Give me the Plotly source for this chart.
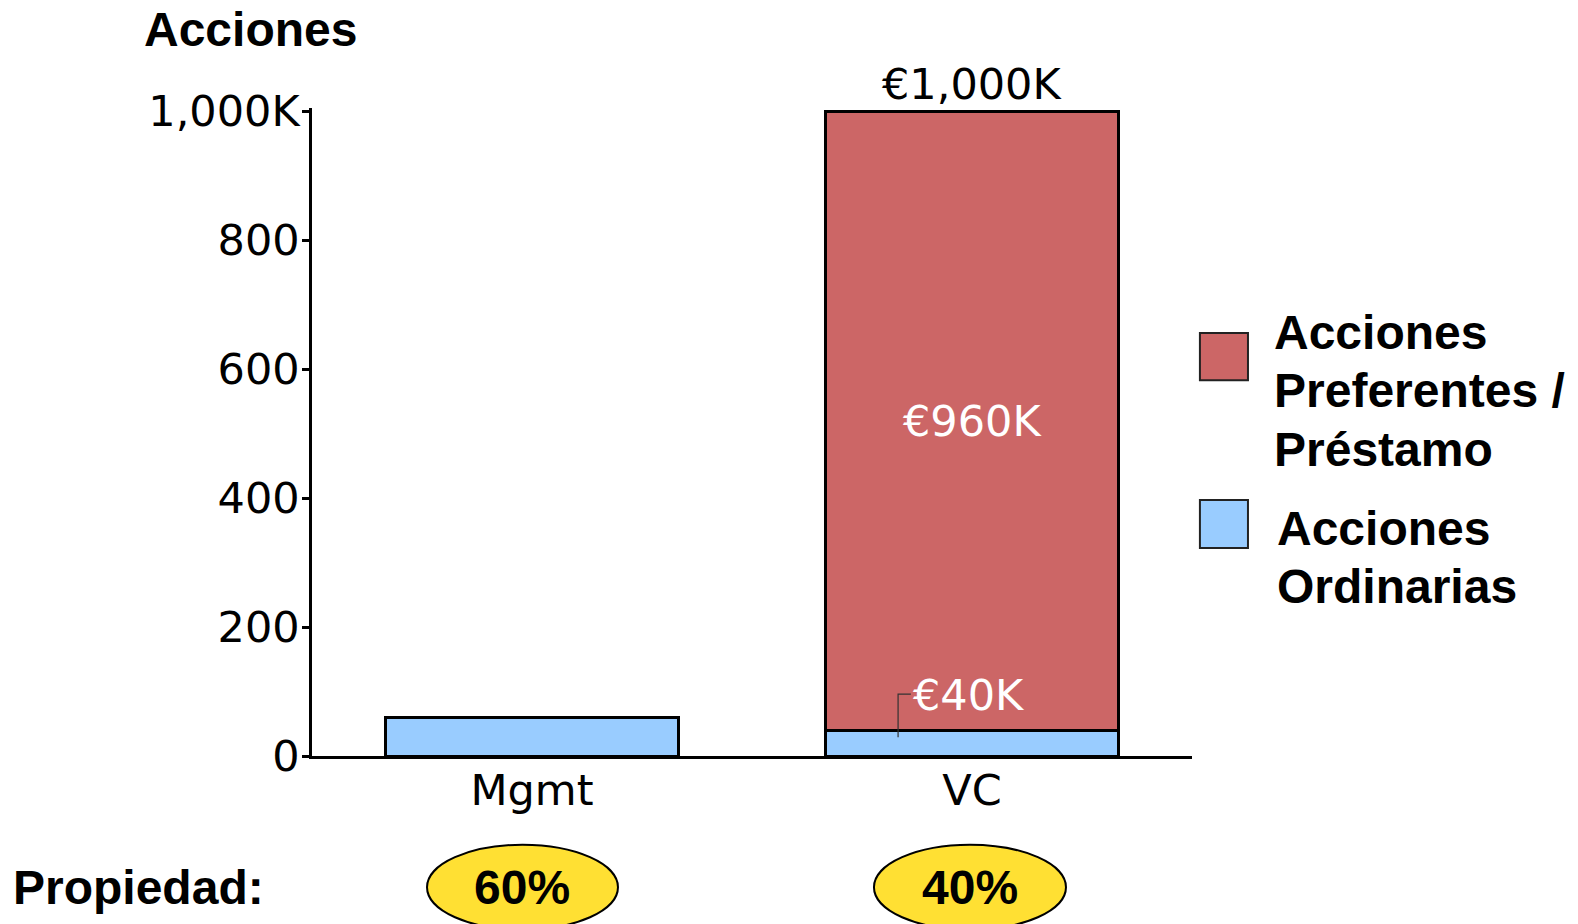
import plotly.graph_objects as go

categories = ["Mgmt", "VC"]
ordinarias = [60, 40]
preferentes = [0, 960]
ownership = ["60%", "40%"]
tick_vals = [0, 200, 400, 600, 800, 1000]
tick_text = ["0", "200", "400", "600", "800", "1,000K"]
legend_red = ["Acciones", "Preferentes /", "Préstamo"]
legend_blue = ["Acciones", "Ordinarias"]

RED = "#CC6666"
BLUE = "#99CCFF"
TICKFONT = dict(family="DejaVu Sans", size=43, color="black")
BOLD = dict(family="Liberation Sans", size=48, color="black")

# plot area geometry (px): height 648 -> paper units
PH = 648.0

fig = go.Figure()
fig.add_trace(go.Bar(x=categories, y=ordinarias, name="Acciones Ordinarias",
                     marker=dict(color=BLUE, line=dict(color="black", width=3)),
                     width=0.666))
fig.add_trace(go.Bar(x=categories, y=preferentes, name="Acciones Preferentes / Préstamo",
                     marker=dict(color=RED, line=dict(color="black", width=3)),
                     width=0.666))

vc_total = ordinarias[1] + preferentes[1]

annotations = [
    dict(x=1, y=vc_total, xref="x", yref="y", text="€1,000K", showarrow=False,
         xanchor="center", yanchor="bottom", yshift=0, font=TICKFONT),
    dict(x=1, y=ordinarias[1] + preferentes[1] / 2, xref="x", yref="y", text="€960K",
         showarrow=False, xanchor="center",
         font=dict(family="DejaVu Sans", size=43, color="white")),
    dict(x=0.861, y=95, xref="x", yref="y", text="€40K", showarrow=False,
         xanchor="left", font=dict(family="DejaVu Sans", size=43, color="white")),
    dict(x=-0.192, y=1.1215, xref="paper", yref="paper", text="<b>Acciones</b>",
         showarrow=False, xanchor="left", yanchor="middle", font=BOLD,
         height=44, valign="middle", borderpad=0),
    dict(x=-0.342, y=-0.2037, xref="paper", yref="paper", text="<b>Propiedad:</b>",
         showarrow=False, xanchor="left", yanchor="middle", font=BOLD),
]

# legend text lines
red_centers = [332, 390, 449]
for txt, py in zip(legend_red, red_centers):
    annotations.append(dict(x=1.0909, y=(756 - py) / PH, xref="paper", yref="paper",
                            text="<b>" + txt + "</b>", showarrow=False,
                            xanchor="left", yanchor="middle", font=BOLD))
blue_centers = [528, 586]
for txt, py in zip(legend_blue, blue_centers):
    annotations.append(dict(x=1.0943, y=(756 - py) / PH, xref="paper", yref="paper",
                            text="<b>" + txt + "</b>", showarrow=False,
                            xanchor="left", yanchor="middle", font=BOLD))

shapes = [
    # leader line for €40K
    dict(type="path", xref="x", yref="y", path="M 0.832 29 L 0.832 96 L 0.861 96",
         line=dict(color="#333333", width=1.2)),
    # legend squares
    dict(type="rect", xref="paper", yref="paper", x0=1.009, x1=1.0636, y0=0.580, y1=0.6528,
         fillcolor=RED, line=dict(color="#222222", width=2)),
    dict(type="rect", xref="paper", yref="paper", x0=1.009, x1=1.0636, y0=0.321, y1=0.395,
         fillcolor=BLUE, line=dict(color="#222222", width=2)),
]

ell_x = [(0.1307, 0.3477), (0.6386, 0.8568)]
for (x0, x1), txt in zip(ell_x, ownership):
    shapes.append(dict(type="circle", xref="paper", yref="paper", x0=x0, x1=x1,
                       y0=-0.268, y1=-0.137, fillcolor="#FFE033",
                       line=dict(color="black", width=2)))
    annotations.append(dict(x=(x0 + x1) / 2, y=-0.2037, xref="paper", yref="paper",
                            text="<b>" + txt + "</b>", showarrow=False,
                            xanchor="center", yanchor="middle", font=BOLD))

fig.update_layout(
    barmode="stack",
    width=1570, height=916,
    margin=dict(l=304, r=386, t=100, b=168),
    plot_bgcolor="white", paper_bgcolor="white",
    showlegend=False,
    annotations=annotations,
    shapes=shapes,
    xaxis=dict(range=[-0.5, 1.5], showline=True, linecolor="black", linewidth=2.5,
               ticks="", tickfont=TICKFONT, showgrid=False, zeroline=False,
               ticklabelstandoff=-5),
    yaxis=dict(range=[0, 1005], showline=True, linecolor="black", linewidth=2.5,
               ticks="outside", ticklen=7, tickwidth=2.5, tickcolor="black",
               tickvals=tick_vals, ticktext=tick_text, tickfont=TICKFONT,
               showgrid=False, zeroline=False, ticklabelstandoff=-6),
)

fig.write_html("out.html")
